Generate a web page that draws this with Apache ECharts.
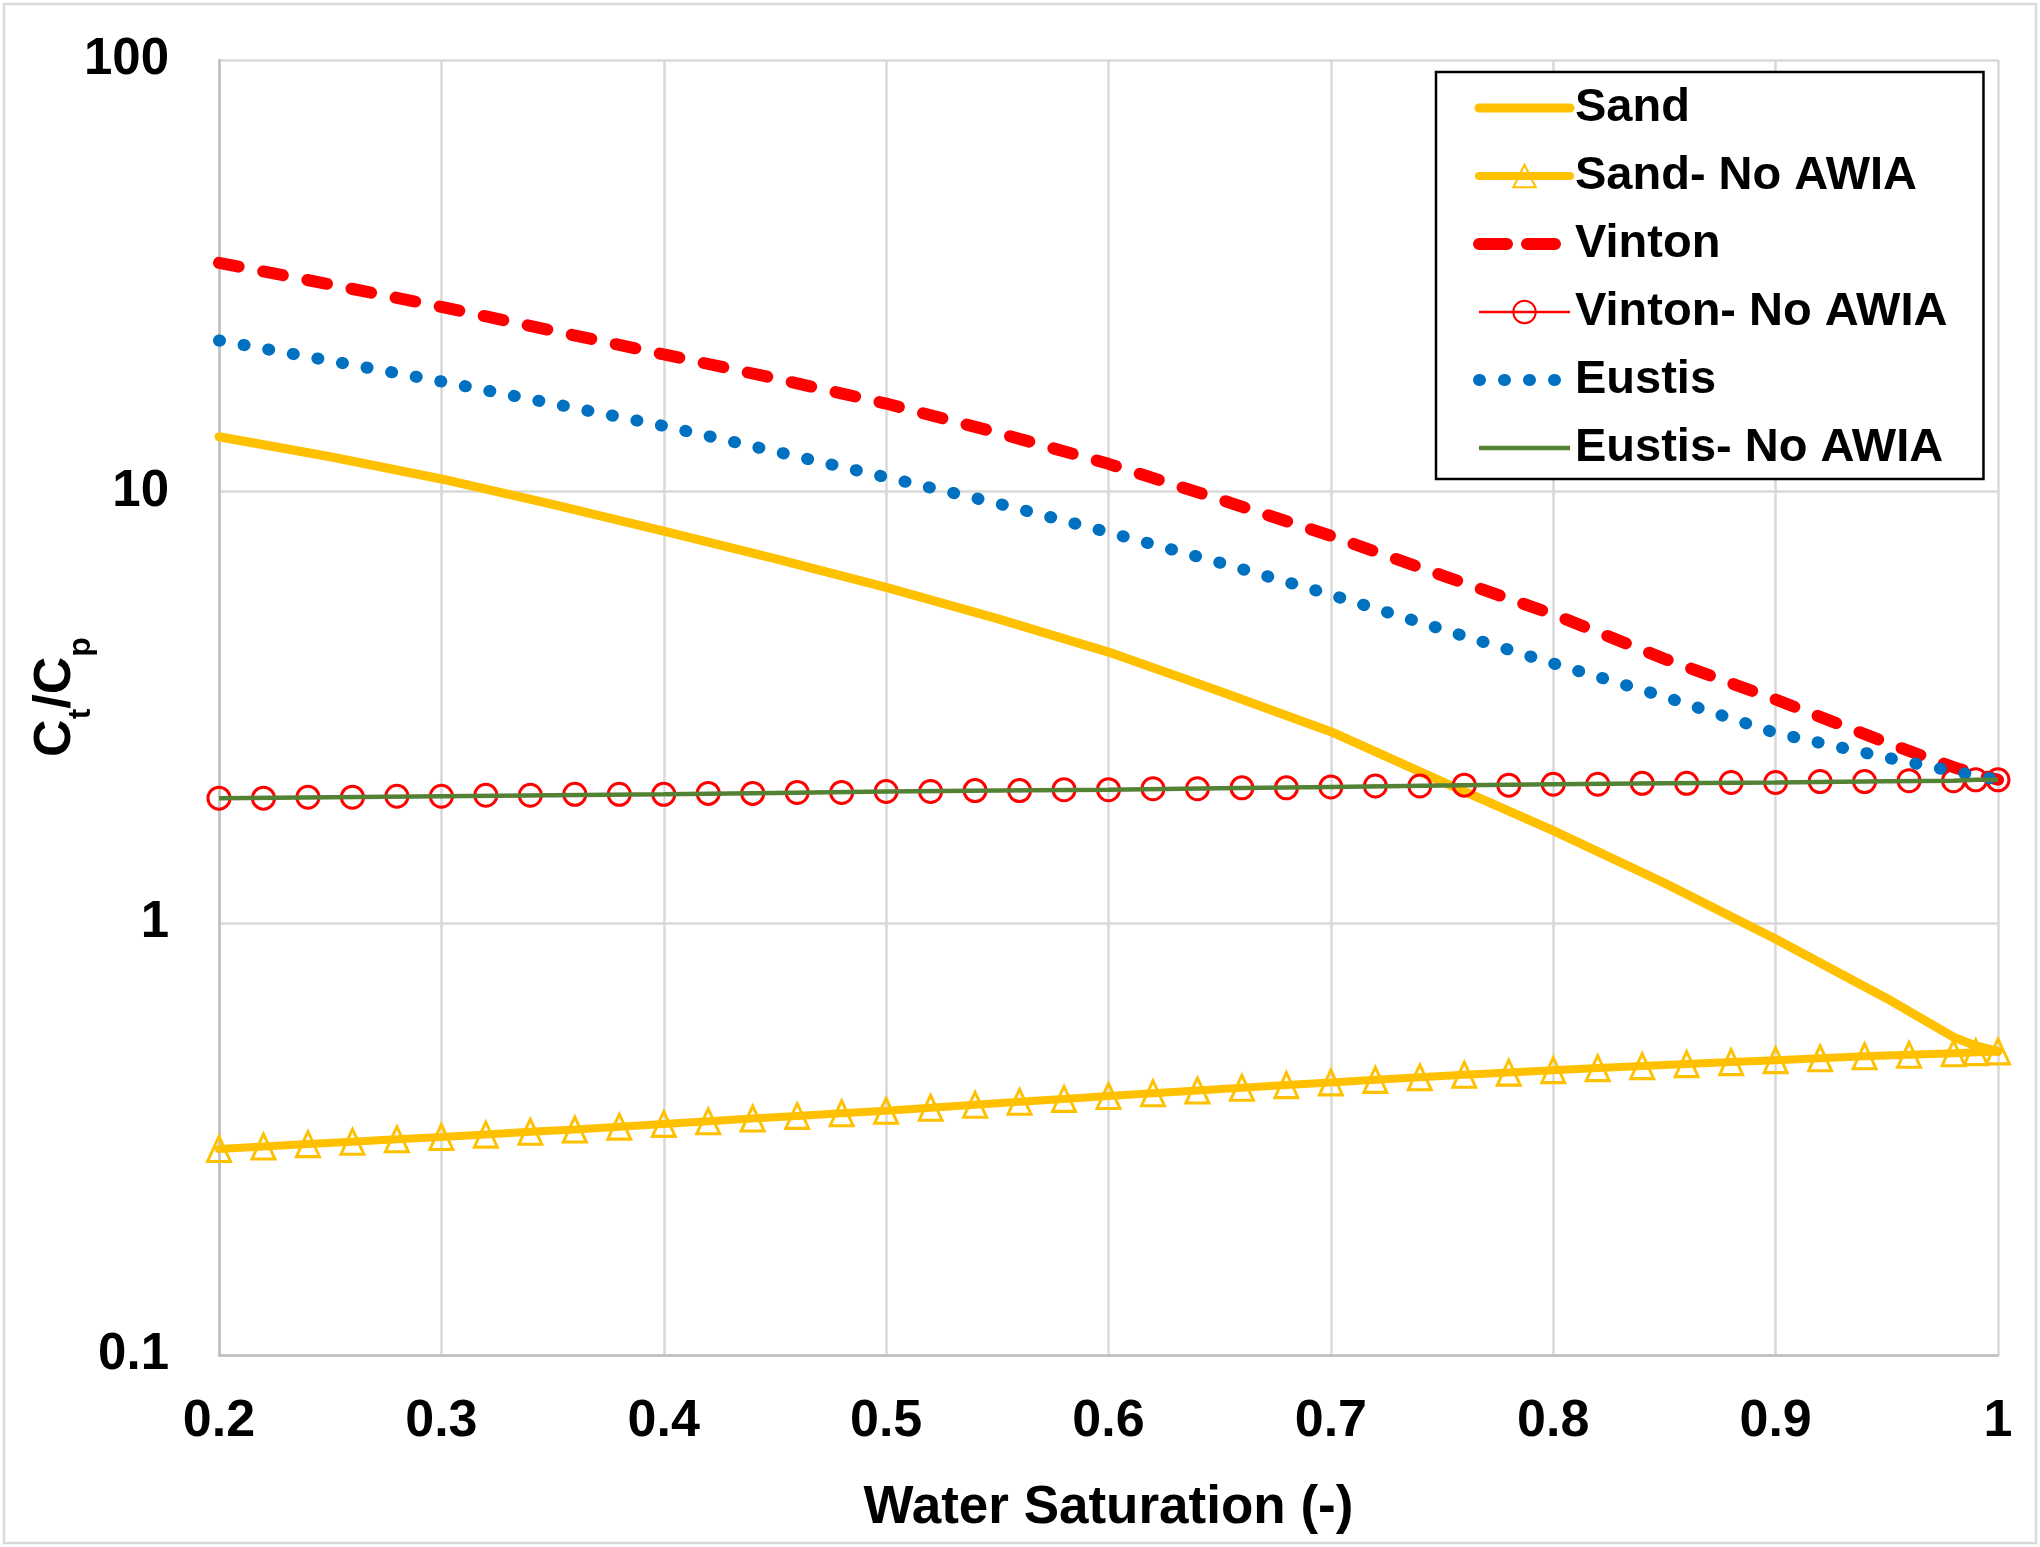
<!DOCTYPE html>
<html><head><meta charset="utf-8">
<script src="https://cdn.jsdelivr.net/npm/echarts@6/dist/echarts.min.js"></script>
<style>html,body{margin:0;padding:0;background:#fff}#c{width:2040px;height:1547px}</style>
</head><body><div id="c"></div><script>
// ---- data ----
const seriesNames = ['Sand', 'Sand- No AWIA', 'Vinton', 'Vinton- No AWIA', 'Eustis', 'Eustis- No AWIA'];
const xMarkers = [0.2,0.22,0.24,0.26,0.28,0.3,0.32,0.34,0.36,0.38,0.4,0.42,0.44,0.46,0.48,0.5,0.52,0.54,0.56,0.58,0.6,0.62,0.64,0.66,0.68,0.7,0.72,0.74,0.76,0.78,0.8,0.82,0.84,0.86,0.88,0.9,0.92,0.94,0.96,0.98,0.99,1];
const sandNoAwia = [0.300,0.304,0.308,0.312,0.316,0.320,0.324,0.329,0.333,0.338,0.343,0.348,0.353,0.358,0.363,0.368,0.374,0.380,0.386,0.392,0.398,0.404,0.410,0.416,0.422,0.428,0.434,0.440,0.446,0.451,0.457,0.462,0.467,0.472,0.477,0.482,0.487,0.492,0.496,0.500,0.503,0.505];
const vintonNoAwia = [1.95,1.95,1.96,1.96,1.97,1.97,1.98,1.98,1.99,1.99,1.99,2.00,2.00,2.01,2.01,2.02,2.02,2.03,2.03,2.04,2.04,2.05,2.05,2.06,2.06,2.07,2.08,2.08,2.09,2.09,2.10,2.10,2.11,2.11,2.12,2.12,2.13,2.13,2.14,2.14,2.15,2.15];
const xCurve = [0.2,0.25,0.3,0.35,0.4,0.45,0.5,0.55,0.6,0.65,0.7,0.75,0.8,0.85,0.9,0.95,0.98,0.99,1];
const sand = [13.4,12.05,10.7,9.35,8.1,7.0,6.0,5.08,4.25,3.45,2.78,2.13,1.64,1.24,0.92,0.67,0.545,0.52,0.505];
const vinton = [33.9,30.2,26.8,23.6,20.8,18.3,16.0,13.7,11.6,9.6,7.9,6.4,5.2,4.1,3.3,2.62,2.3,2.22,2.15];
const eustis = [22.4,20.1,18.0,16.0,14.2,12.4,10.8,9.4,8.05,6.85,5.77,4.8,4.0,3.35,2.76,2.42,2.25,2.2,2.15];
const eustisNoAwia = [1.95,1.96,1.97,1.98,1.99,2.005,2.02,2.03,2.04,2.055,2.07,2.085,2.10,2.11,2.12,2.135,2.14,2.15,2.15];
const xTickLabels = {0.2:'0.2',0.3:'0.3',0.4:'0.4',0.5:'0.5',0.6:'0.6',0.7:'0.7',0.8:'0.8',0.9:'0.9',1:'1'};
const yTickLabels = {0.1:'0.1',1:'1',10:'10',100:'100'};
// y-axis title pieces: [text, isSubscript]
const yTitleParts = [['C', false], ['t', true], ['/C', false], ['p', true]];

const pair = (xs, ys) => xs.map((x, i) => [x, ys[i]]);
const FONT = '"Liberation Sans", Arial, sans-serif';
const YEL = '#FFC000', RED = '#FF0000', BLUE = '#0070C0', GRN = '#548235';

// build rotated y-axis title with real subscripts
const MAIN_FS = 52, SUB_FS = 32;
const ctx = document.createElement('canvas').getContext('2d');
const widths = yTitleParts.map(([t, sub]) => {
  ctx.font = 'bold ' + (sub ? SUB_FS : MAIN_FS) + 'px ' + FONT;
  return ctx.measureText(t).width;
});
const totalW = widths.reduce((a, b) => a + b, 0);
let cx = -totalW / 2;
const titleChildren = yTitleParts.map(([t, sub], i) => {
  const el = {type: 'text', x: cx, y: sub ? 25 : 0,
    style: {text: t, fontFamily: FONT, fontWeight: 'bold', fontSize: sub ? SUB_FS : MAIN_FS,
      fill: '#000', align: 'left', verticalAlign: 'middle'}};
  cx += widths[i];
  return el;
});

const hideSym = {color: 'rgba(0,0,0,0)', borderWidth: 0, opacity: 0};

const chart = echarts.init(document.getElementById('c'), null, {renderer: 'canvas'});
chart.setOption({
  backgroundColor: '#fff',
  animation: false,
  grid: {left: 219, top: 60, right: 42, bottom: 192, containLabel: false, outerBoundsMode: 'none'},
  xAxis: {
    type: 'value', min: 0.2, max: 1, interval: 0.1,
    name: 'Water Saturation (-)', nameLocation: 'middle', nameGap: 127,
    nameTextStyle: {fontFamily: FONT, fontWeight: 'bold', fontSize: 53, color: '#000'},
    axisLine: {show: true, onZero: false, lineStyle: {color: '#bfbfbf', width: 2.5}},
    axisTick: {show: false},
    axisLabel: {fontFamily: FONT, fontWeight: 'bold', fontSize: 52, color: '#000', margin: 41,
      formatter: v => xTickLabels[Math.round(v * 10) / 10] || ''},
    splitLine: {show: true, lineStyle: {color: '#d9d9d9', width: 2.5}}
  },
  yAxis: {
    type: 'log', logBase: 10, min: 0.1, max: 100,
    axisLine: {show: true, lineStyle: {color: '#bfbfbf', width: 2.5}},
    axisTick: {show: false},
    axisLabel: {fontFamily: FONT, fontWeight: 'bold', fontSize: 51, color: '#000', margin: 50,
      formatter: v => yTickLabels[v] || String(v)},
    splitLine: {show: true, lineStyle: {color: '#d9d9d9', width: 2.5}},
    minorSplitLine: {show: false}
  },
  legend: {
    orient: 'vertical', left: 1436, top: 72,
    padding: [11, 36, 6, 37],
    borderColor: '#000', borderWidth: 2.5, backgroundColor: '#fff',
    itemWidth: 91, itemHeight: 28, itemGap: 18,
    data: [
      {name: seriesNames[0], itemStyle: hideSym},
      {name: seriesNames[1]},
      {name: seriesNames[2], itemStyle: hideSym, lineStyle: {type: [28, 20], width: 12, cap: 'round'}},
      {name: seriesNames[3]},
      {name: seriesNames[4], itemStyle: hideSym},
      {name: seriesNames[5], itemStyle: hideSym}
    ],
    textStyle: {fontFamily: FONT, fontWeight: 'bold', fontSize: 47, color: '#000', lineHeight: 50},
    lineStyle: {width: 'inherit'}
  },
  graphic: [
    {type: 'rect', shape: {x: 4, y: 4, width: 2032, height: 1539}, style: {fill: 'none', stroke: '#d9d9d9', lineWidth: 2.5}, silent: true, z: -1},
    {type: 'group', x: 56, y: 697, rotation: Math.PI / 2, children: titleChildren}
  ],
  series: [
    {name: 'Sand', type: 'line', data: pair(xCurve, sand), symbol: 'none', z: 2,
      lineStyle: {color: YEL, width: 9, cap: 'round', join: 'round'}, itemStyle: {color: YEL}},
    {name: 'Sand- No AWIA', type: 'line', data: pair(xMarkers, sandNoAwia), symbol: 'triangle', symbolSize: [23, 25], z: 3,
      showAllSymbol: true,
      lineStyle: {color: YEL, width: 8, cap: 'round'},
      itemStyle: {color: 'rgba(255,255,255,0)', borderColor: YEL, borderWidth: 3}},
    {name: 'Vinton', type: 'line', data: pair(xCurve, vinton), symbol: 'none', z: 4,
      lineStyle: {color: RED, width: 12, type: [20, 25], cap: 'round'}, itemStyle: {color: RED}},
    {name: 'Vinton- No AWIA', type: 'line', data: pair(xMarkers, vintonNoAwia), symbol: 'circle', symbolSize: 22, z: 5,
      showAllSymbol: true,
      lineStyle: {color: RED, width: 2.5},
      itemStyle: {color: 'rgba(255,255,255,0)', borderColor: RED, borderWidth: 3}},
    {name: 'Eustis', type: 'line', data: pair(xCurve, eustis), symbol: 'none', z: 6,
      lineStyle: {color: BLUE, width: 12, type: [1, 24], cap: 'round'}, itemStyle: {color: BLUE}},
    {name: 'Eustis- No AWIA', type: 'line', data: pair(xCurve, eustisNoAwia), symbol: 'none', z: 7,
      lineStyle: {color: GRN, width: 4.5}, itemStyle: {color: GRN}}
  ]
});
</script></body></html>
